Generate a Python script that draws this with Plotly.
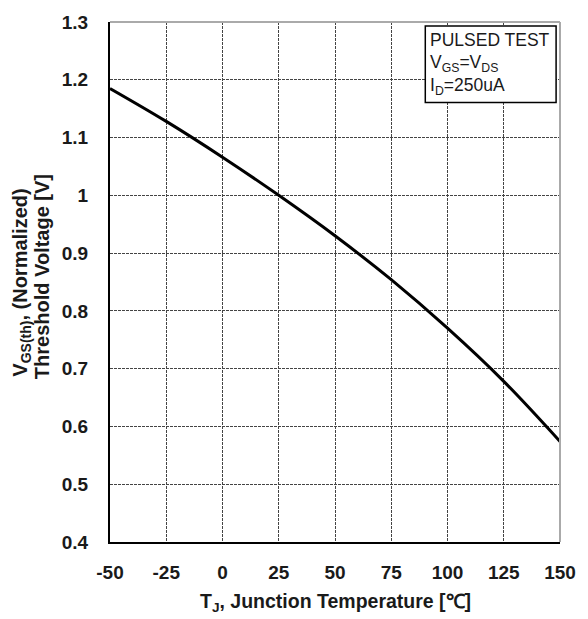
import plotly.graph_objects as go

# Data
temps = [-50, -25, 0, 25, 50, 75, 100, 125, 150]
vth_norm = [1.185, 1.128, 1.066, 1.000, 0.930, 0.854, 0.770, 0.678, 0.574]

x_ticks = [-50, -25, 0, 25, 50, 75, 100, 125, 150]
x_tick_labels = ["-50", "-25", "0", "25", "50", "75", "100", "125", "150"]
y_ticks = [0.4, 0.5, 0.6, 0.7, 0.8, 0.9, 1.0, 1.1, 1.2, 1.3]
y_tick_labels = ["0.4", "0.5", "0.6", "0.7", "0.8", "0.9", "1", "1.1", "1.2", "1.3"]

W, H = 588, 619
L, R, T, B = 110, 17, 19, 77
PW, PH = W - L - R, H - T - B

def px(xp):
    return (xp - L) / PW

def py(yp):
    return (H - B - yp) / PH

FONT = "Liberation Sans, Arial, sans-serif"

fig = go.Figure()
fig.add_trace(go.Scatter(
    x=temps, y=vth_norm, mode="lines",
    line=dict(color="black", width=3, shape="spline", smoothing=1.0),
    hoverinfo="skip", showlegend=False,
))

axis_common = dict(
    showgrid=True, gridcolor="#444444", gridwidth=1.2, griddash="3px,1px",
    showline=True, linecolor="black", linewidth=2,
    ticks="", zeroline=False,
    tickfont=dict(family=FONT, size=19, color="#1a1a1a", weight="bold"),
)

fig.update_xaxes(range=[-50, 150], tickvals=x_ticks, ticktext=x_tick_labels,
                 ticklabelstandoff=12, **axis_common)
fig.update_yaxes(range=[0.4, 1.3], tickvals=y_ticks, ticktext=y_tick_labels,
                 ticklabelstandoff=16, **axis_common)

# gray frame on top/right
fig.add_shape(type="line", xref="paper", yref="paper", x0=0, x1=1, y0=1, y1=1,
              line=dict(color="#aaaaaa", width=2))
fig.add_shape(type="line", xref="paper", yref="paper", x0=1, x1=1, y0=0, y1=1,
              line=dict(color="#aaaaaa", width=2))

# legend box
fig.add_shape(type="rect", xref="paper", yref="paper",
              x0=px(433), x1=px(567), y0=py(100), y1=py(23),
              line=dict(color="black", width=1.5), fillcolor="white", layer="above")

box_lines = ["PULSED TEST",
             "V<sub>GS</sub>=V<sub>DS</sub>",
             "I<sub>D</sub>=250uA"]
box_y = [37, 61, 84]
for txt, yy in zip(box_lines, box_y):
    fig.add_annotation(text=txt, xref="paper", yref="paper", x=px(436), y=py(yy),
                       xanchor="left", yanchor="middle", showarrow=False,
                       font=dict(family=FONT, size=17.5, color="#1a1a1a"))

# axis titles
fig.add_annotation(text="T<sub>J</sub>, Junction Temperature [℃]", xref="paper", yref="paper",
                   x=0.5, y=py(603), xanchor="center", yanchor="middle", showarrow=False,
                   font=dict(family=FONT, size=19.5, color="#1a1a1a", weight="bold"))
fig.add_annotation(text="V<sub>GS(th)</sub>, (Normalized)", xref="paper", yref="paper",
                   x=px(19), y=py(281), xanchor="center", yanchor="middle", showarrow=False,
                   textangle=-90,
                   font=dict(family=FONT, size=20, color="#1a1a1a", weight="bold"))
fig.add_annotation(text="Threshold Voltage [V]", xref="paper", yref="paper",
                   x=px(40), y=py(275), xanchor="center", yanchor="middle", showarrow=False,
                   textangle=-90,
                   font=dict(family=FONT, size=20, color="#1a1a1a", weight="bold"))

fig.update_layout(
    width=W, height=H,
    margin=dict(l=L, r=R, t=T, b=B),
    plot_bgcolor="white", paper_bgcolor="white",
    showlegend=False,
)

fig.write_html("out.html")
